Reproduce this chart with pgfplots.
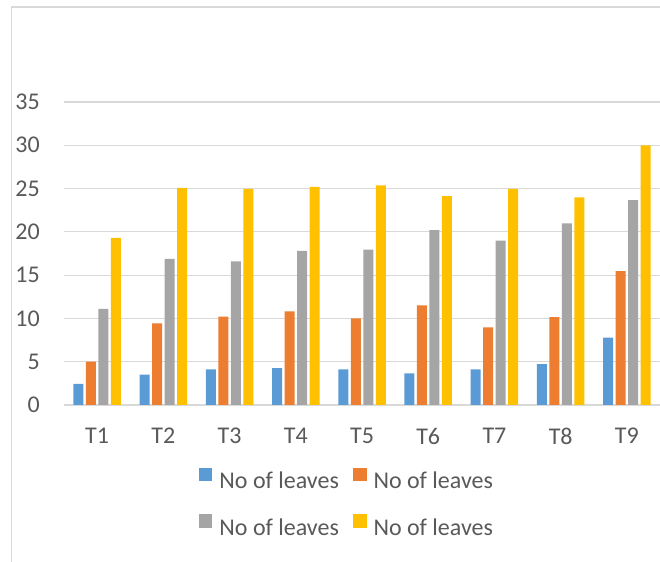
\documentclass[border=0pt]{standalone}
\usepackage{pgfplots}
\pgfplotsset{compat=1.18}
\usepackage{fontspec}
\setmainfont{Carlito}
\definecolor{sblue}{HTML}{5B9BD5}
\definecolor{sorange}{HTML}{ED7D31}
\definecolor{sgray}{HTML}{A5A5A5}
\definecolor{syellow}{HTML}{FFC000}
\definecolor{gridc}{HTML}{D9D9D9}
\definecolor{txt}{HTML}{595959}
\begin{document}
\begin{tikzpicture}[x=1bp,y=1bp]
\path[use as bounding box] (0,0) rectangle (660,562);
\draw[gridc, line width=1.5bp] (11.5,0) -- (11.5,555) -- (661,555);
\begin{axis}[
  at={(64bp,157bp)}, anchor=south west,
  scale only axis, width=596bp, height=303bp,
  xmin=-0.5, xmax=8.5, ymin=0, ymax=35,
  ybar=2.5bp, bar width=10bp,
  axis line style={draw=none},
  major tick length=0,
  xtick={0,...,8},
  xticklabels={T1,T2,T3,T4,T5,T6,T7,T8,T9},
  ytick={0,5,...,35},
  ymajorgrids, grid style={gridc, line width=1.2bp},
  font=\fontsize{24bp}{28bp}\selectfont,
  ticklabel style={text=txt, inner sep=0pt},
  yticklabel style={anchor=east, xshift=-24bp},
  xticklabel style={anchor=north, yshift=-23bp},
  /pgf/number format/assume math mode=true,
  legend columns=2,
  legend style={draw=none, fill=none, at={(0.473,-0.321)}, anchor=center,
    text=txt, font=\fontsize{24bp}{28bp}\selectfont,
    row sep=24bp,
    /tikz/every odd column/.append style={column sep=7bp},
    /tikz/every even column/.append style={column sep=14bp},
    nodes={inner sep=0pt}},
  legend image code/.code={\fill[#1] (0bp,0bp) rectangle (13.6bp,13.6bp);},
]
\addplot[fill=sblue, draw=none] coordinates {(0,2.45) (1,3.5) (2,4.12) (3,4.27) (4,4.12) (5,3.66) (6,4.12) (7,4.73) (8,7.77)};
\addplot[fill=sorange, draw=none] coordinates {(0,5.0) (1,9.43) (2,10.2) (3,10.82) (4,10.0) (5,11.5) (6,8.97) (7,10.15) (8,15.47)};
\addplot[fill=sgray, draw=none] coordinates {(0,11.09) (1,16.87) (2,16.6) (3,17.79) (4,17.94) (5,20.2) (6,19.0) (7,20.98) (8,23.67)};
\addplot[fill=syellow, draw=none] coordinates {(0,19.29) (1,25.07) (2,24.95) (3,25.2) (4,25.37) (5,24.13) (6,24.95) (7,23.98) (8,30.0)};
\legend{No of leaves, No of leaves, No of leaves, No of leaves}
\end{axis}
\end{tikzpicture}
\end{document}
